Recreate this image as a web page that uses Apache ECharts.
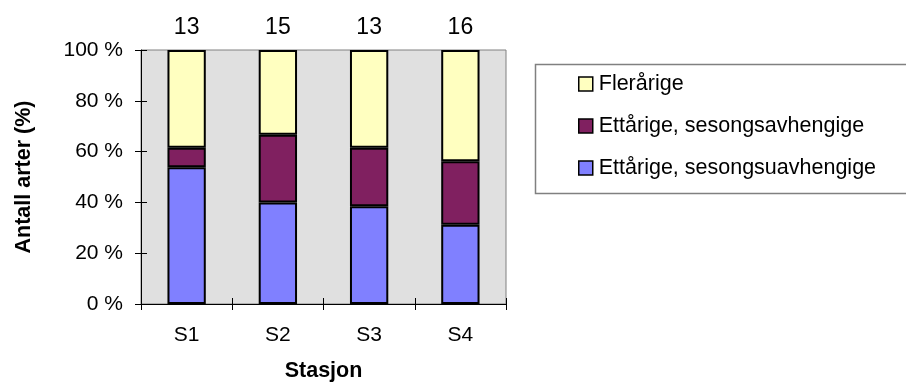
<!DOCTYPE html>
<html>
<head>
<meta charset="utf-8">
<script src="https://cdn.jsdelivr.net/npm/echarts@6/dist/echarts.min.js"></script>
<style>
  html, body { margin: 0; padding: 0; background: #fff; overflow: hidden; }
  #chart { width: 906px; height: 383px; }
</style>
</head>
<body>
<div id="chart"></div>
<script>
// Stations and species counts per life-history group
const stations = ['S1', 'S2', 'S3', 'S4'];
const perennial = [5, 5, 5, 7];               // Flerårige
const annualSeasonal = [1, 4, 3, 4];          // Ettårige, sesongsavhengige
const annualNonSeasonal = [7, 6, 5, 5];       // Ettårige, sesongsuavhengige
const yTicks = [0, 20, 40, 60, 80, 100];

const totals = stations.map((_, i) => perennial[i] + annualSeasonal[i] + annualNonSeasonal[i]);
const toPct = arr => arr.map((v, i) => v / totals[i] * 100);

const FONT = '"Liberation Sans", Arial, sans-serif';
const barBorder = { borderColor: '#000', borderWidth: 2 };
const titleStyle = { fontFamily: FONT, fontSize: 21.5, fontWeight: 'bold', color: '#000' };

const chart = echarts.init(document.getElementById('chart'), null, { renderer: 'canvas' });
chart.setOption({
  animation: false,
  backgroundColor: '#fff',
  textStyle: { fontFamily: FONT },
  grid: {
    left: 141, top: 50, right: 400, bottom: 79,
    outerBoundsMode: 'none',
    containLabel: false,
    show: true, backgroundColor: '#E0E0E0', borderColor: '#808080', borderWidth: 1
  },
  // legend frame, running off the right edge of the canvas
  graphic: [{
    type: 'rect',
    shape: { x: 535.5, y: 64.5, width: 420, height: 129 },
    style: { fill: 'none', stroke: '#808080', lineWidth: 1.5 },
    silent: true
  }],
  legend: {
    orient: 'vertical',
    left: 578, top: 73,
    padding: 0,
    itemGap: 20,
    itemWidth: 14, itemHeight: 14,
    itemStyle: { borderColor: '#000', borderWidth: 1.5 },
    icon: 'rect',
    textStyle: { fontFamily: FONT, fontSize: 21.5, color: '#000', padding: [0, 0, 0, 1] },
    data: ['Flerårige', 'Ettårige, sesongsavhengige', 'Ettårige, sesongsuavhengige']
  },
  xAxis: [
    {
      type: 'category',
      data: stations,
      boundaryGap: true,
      name: 'Stasjon',
      nameLocation: 'middle',
      nameGap: 56,
      nameTextStyle: titleStyle,
      axisLine: { lineStyle: { color: '#000', width: 1 } },
      axisTick: { show: true, length: 6, lineStyle: { color: '#000' } },
      axisLabel: { margin: 21, fontSize: 21, color: '#000', fontFamily: FONT },
      splitLine: { show: false }
    },
    {
      // inner half of the crossing tick marks
      type: 'category',
      data: stations,
      boundaryGap: true,
      position: 'bottom',
      axisLine: { show: false },
      axisTick: { show: true, inside: true, length: 6, lineStyle: { color: '#000' } },
      axisLabel: { show: false },
      splitLine: { show: false }
    }
  ],
  yAxis: [
    {
      type: 'value',
      min: yTicks[0], max: yTicks[yTicks.length - 1], interval: 20,
      name: 'Antall arter (%)',
      nameLocation: 'middle',
      nameGap: 106,
      nameTextStyle: titleStyle,
      axisLine: { show: true, lineStyle: { color: '#000', width: 1 } },
      axisTick: { show: true, length: 6, lineStyle: { color: '#000' } },
      axisLabel: { margin: 18, fontSize: 21, color: '#000', fontFamily: FONT, formatter: '{value} %' },
      splitLine: { show: false }
    },
    {
      // inner half of the crossing tick marks
      type: 'value',
      position: 'left',
      min: yTicks[0], max: yTicks[yTicks.length - 1], interval: 20,
      axisLine: { show: false },
      axisTick: { show: true, inside: true, length: 6, lineStyle: { color: '#000' } },
      axisLabel: { show: false },
      splitLine: { show: false }
    }
  ],
  series: [
    {
      name: 'Ettårige, sesongsuavhengige', type: 'bar', stack: 'all', barWidth: '42%',
      itemStyle: Object.assign({ color: '#8080FF' }, barBorder),
      data: toPct(annualNonSeasonal)
    },
    {
      name: 'Ettårige, sesongsavhengige', type: 'bar', stack: 'all', barWidth: '42%',
      itemStyle: Object.assign({ color: '#802060' }, barBorder),
      data: toPct(annualSeasonal)
    },
    {
      name: 'Flerårige', type: 'bar', stack: 'all', barWidth: '42%',
      itemStyle: Object.assign({ color: '#FFFFC0' }, barBorder),
      data: toPct(perennial),
      label: {
        show: true, position: 'top', distance: 11,
        fontFamily: FONT, fontSize: 23, color: '#000',
        formatter: p => String(totals[p.dataIndex])
      }
    }
  ]
});
</script>
</body>
</html>
